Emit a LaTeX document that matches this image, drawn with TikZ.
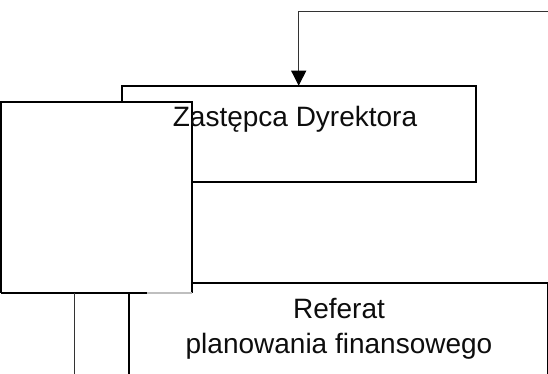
\documentclass[tikz,border=0pt]{standalone}
\usepackage{fontspec}
\setmainfont{Liberation Sans}
\usetikzlibrary{arrows.meta}
\begin{document}
\begin{tikzpicture}[x=1pt,y=-1pt,
  boxline/.style={draw=black,line width=2.2pt},
  plainbox/.style={rectangle,inner sep=0pt,outer sep=0pt},
  thinline/.style={draw=black!80,line width=1pt},
  faintline/.style={draw=black!25,line width=1.4pt},
  label/.style={inner sep=0pt,anchor=base,text=black!95,font=\fontsize{28}{32}\selectfont}]
\useasboundingbox (0,0) rectangle (548,374);
\clip (0,0) rectangle (548,374);
% Zastepca box
\node[plainbox,boxline,minimum width=354pt,minimum height=96.6pt] (zast) at (298.7,134) {};
% connector from the right edge
\coordinate (start) at (549,11.7);
\draw[thinline,-{Triangle[width=15pt,length=15pt,black]}] (start) -| (zast.north);
% Referat box (runs past the bottom and right edges)
\node[plainbox,boxline,minimum width=419.2pt,minimum height=140pt] (ref) at (338.6,353) {};
% left white box
\node[plainbox,fill=white,minimum width=191.3pt,minimum height=191.3pt] (lbox) at (96.65,197.35) {};
\draw[boxline] (lbox.south west) |- (lbox.north east) -- (lbox.south east);
\coordinate (lcut) at (147,293);
\draw[boxline] (lbox.south west) -- (lcut);
\draw[faintline] (lcut) -- (lbox.south east);
% thin vertical line below the left box
\coordinate (vtop) at (74,293);
\coordinate (vbot) at (74,380);
\draw[thinline] (vtop) -- (vbot);
% texts
\node[label] (zt) at (295,126.7) {Zastępca Dyrektora};
\node[label] (rt1) at (339,318) {Referat};
\node[label] (rt2) at (339,353.5) {planowania finansowego};
\end{tikzpicture}
\end{document}
